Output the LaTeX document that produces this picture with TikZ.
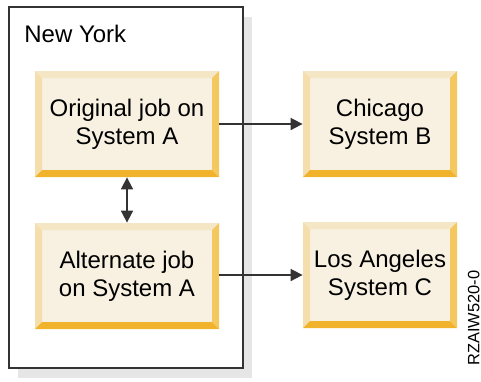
\documentclass[tikz,border=0pt]{standalone}
\usepackage{fontspec}
\setmainfont{Liberation Sans}
\usepackage{tikz}
\usetikzlibrary{arrows.meta, positioning}
\definecolor{boxfill}{HTML}{F8F1E1}
\definecolor{beveltop}{HTML}{F5E7C6}
\definecolor{bevelleft}{HTML}{F4DEAB}
\definecolor{bevelright}{HTML}{F4C85C}
\definecolor{bevelbottom}{HTML}{F2B32C}
\definecolor{framegray}{HTML}{333333}
\definecolor{shadowgray}{HTML}{E6E6E6}

\begin{document}
\begin{tikzpicture}[
    x=0.5pt, y=-0.5pt,
    jobbox/.style={rectangle, fill=boxfill, minimum height=53pt,
                   align=center, inner sep=0pt,
                   font=\fontsize{12}{14}\selectfont,
                   path picture={
                     \coordinate (nw) at (path picture bounding box.north west);
                     \coordinate (ne) at (path picture bounding box.north east);
                     \coordinate (sw) at (path picture bounding box.south west);
                     \coordinate (se) at (path picture bounding box.south east);
                     \fill[beveltop] (nw) -- (ne) -- ([shift={(-7,7)}]ne) -- ([shift={(7,7)}]nw) -- cycle;
                     \fill[bevelleft] (nw) -- ([shift={(7,7)}]nw) -- ([shift={(7,-7)}]sw) -- (sw) -- cycle;
                     \fill[bevelright] (ne) -- (se) -- ([shift={(-7,-7)}]se) -- ([shift={(-7,7)}]ne) -- cycle;
                     \fill[bevelbottom] (sw) -- (se) -- ([shift={(-7,-7)}]se) -- ([shift={(7,-7)}]sw) -- cycle;
                   }},
    arr/.style={-{Triangle[length=6pt, width=6pt]}, line width=0.85pt, framegray},
    darr/.style={{Triangle[length=6pt, width=6pt]}-{Triangle[length=6pt, width=6pt]},
                 line width=0.85pt, framegray},
]
  \useasboundingbox (0,0) rectangle (481,381);

  % New York frame with its shadow
  \fill[shadowgray] (18,17) rectangle (252,378);
  \node[draw=framegray, fill=white, line width=0.75pt, minimum width=117pt,
        minimum height=180.5pt, inner sep=0pt] (ny) at (126,187.5) {};
  \node[anchor=base west, inner sep=0pt, font=\fontsize{12}{14}\selectfont] (nylabel) at (24,42) {New York};

  % Left column
  \node[jobbox, minimum width=92pt] (orig) at (127,124) {Original job on\\System A};
  \node[jobbox, minimum width=92pt] (alt) at (127,276) {Alternate job\\on System A};

  % Right column
  \node[jobbox, minimum width=77pt] (chi) at (380,124) {Chicago\\System B};
  \node[jobbox, minimum width=77pt] (la) at (380,275) {Los Angeles\\System C};

  % connectors
  \draw[darr] (orig.south) -- (alt.north);
  \draw[arr] (orig.east) -- (chi.west);
  \draw[arr] (alt.east |- la.west) -- (la.west);

  % figure id
  \node[rotate=90, anchor=south, inner sep=0pt, font=\fontsize{8.2}{9}\selectfont] (figid) at (480,318) {RZAIW520-0};
\end{tikzpicture}
\end{document}
